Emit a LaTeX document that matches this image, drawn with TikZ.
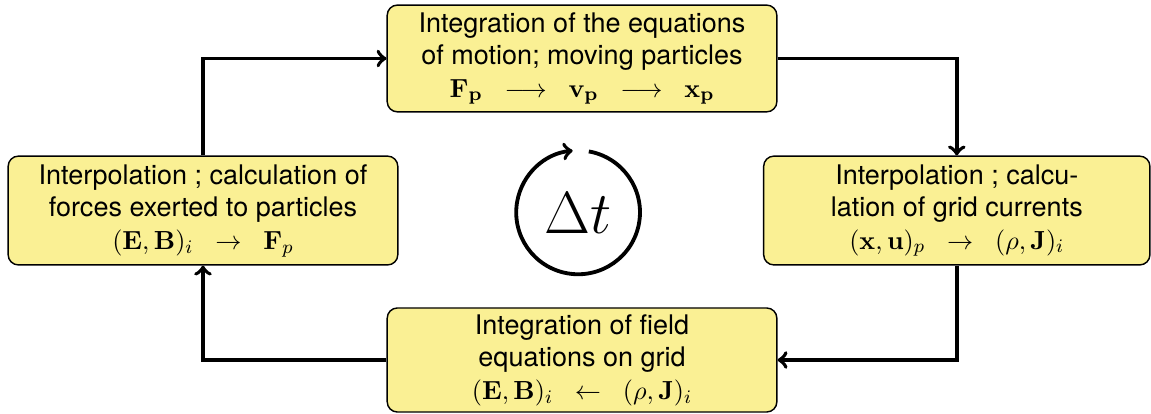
\documentclass[tikz,border=0pt]{standalone}
\usepackage[no-math]{fontspec}
\setmainfont{TeX Gyre Heros}
\usepackage{amsmath,amssymb}
\usepackage{xcolor}
\usepackage{tikz}
\usetikzlibrary{arrows, positioning, calc}
\definecolor{boxyellow}{rgb}{0.98,0.94,0.58}

\begin{document}
\begin{tikzpicture}[
  box/.style={draw, line width=0.6pt, rounded corners=1.5mm, fill=boxyellow, align=center, minimum height=15.7mm, inner sep=2pt, font=\fontsize{11.3}{13.6}\selectfont},
  arrow/.style={->, >=to, line width=1.6pt},
  cycle/.style={circle, minimum size=18.2mm, inner sep=0pt, font=\Huge}
]
\useasboundingbox (0,0) rectangle (16.926,-6.088);
\node[box, minimum width=57.3mm] at (8.559,-0.860) (push) {Integration of the equations\\of motion; moving particles\\$\mathbf{F_p} \;\;\longrightarrow\;\; \mathbf{v_p} \;\;\longrightarrow\;\; \mathbf{x_p}$};
\node[box, minimum width=57.3mm, minimum height=16mm] at (2.985,-3.096) (force) {Interpolation ; calculation of\\forces exerted to particles\\$(\mathbf{E},\mathbf{B})_i \;\;\rightarrow\;\; \mathbf{F}_p$};
\node[box, minimum width=56.8mm, minimum height=16mm] at (14.07,-3.096) (deposit) {Interpolation ; calcu-\\lation of grid currents\\$(\mathbf{x},\mathbf{u})_p \;\;\rightarrow\;\; (\rho,\mathbf{J})_i$};
\node[box, minimum width=57.3mm, minimum height=15.3mm] at (8.559,-5.294) (field) {Integration of field\\equations on grid\\$(\mathbf{E},\mathbf{B})_i \;\;\leftarrow\;\; (\rho,\mathbf{J})_i$};
\node[cycle] at (8.50,-3.13) (clock) {$\Delta t$};
\coordinate (topleft) at (force.north |- push.west);
\coordinate (topright) at (deposit.north |- push.east);
\coordinate (botright) at (deposit.south |- field.east);
\coordinate (botleft) at (force.south |- field.west);
\draw[arrow] (force.north) -- (topleft) -- (push.west);
\draw[arrow] (push.east) -- (topright) -- (deposit.north);
\draw[arrow] (deposit.south) -- (botright) -- (field.east);
\draw[arrow] (field.west) -- (botleft) -- (force.south);
\draw[arrow] (clock.80) arc[start angle=80, end angle=-265, radius=9.1mm];
\end{tikzpicture}
\end{document}
